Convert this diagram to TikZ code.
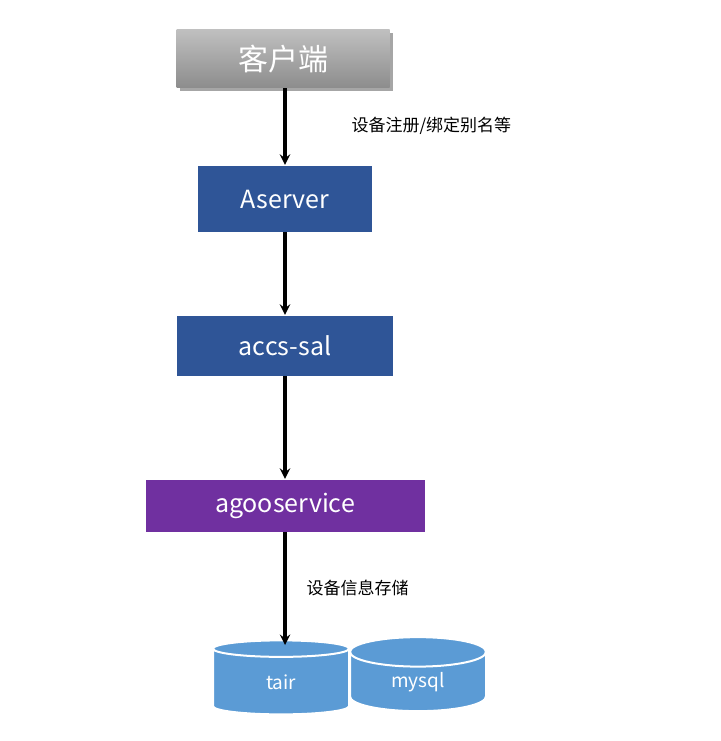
\documentclass[tikz,border=0pt]{standalone}
\usepackage{fontspec}
\setmainfont{Noto Sans CJK SC}
\usetikzlibrary{shapes.geometric}
\definecolor{boxblue}{HTML}{2F5597}
\definecolor{boxpurple}{HTML}{7030A0}
\definecolor{dbblue}{HTML}{5B9BD5}
\begin{document}
\begin{tikzpicture}[x=1pt,y=-1pt,>=stealth,
	box/.style={rectangle, text=white, font=\fontsize{25}{28}\selectfont, inner sep=0pt},
	db/.style={cylinder, shape border rotate=90, aspect=0.55, fill=dbblue, draw=white, line width=2pt,
		minimum width=136pt, minimum height=74pt, text=white, font=\fontsize{19}{22}\selectfont, inner sep=0pt},
	flow/.style={->, line width=3.5pt, shorten >=1pt}]

	\useasboundingbox (0,0) rectangle (720,741);

	\fill[black!35] (180,33) rectangle (393,91);
	\node[box, minimum width=213pt, minimum height=58pt, top color=black!25, bottom color=black!45, font=\fontsize{30}{32}\selectfont] (Client) at (283,59) {客户端};
	\node[box, fill=boxblue, minimum width=174pt, minimum height=66pt] (Aserver) at (285,199) {Aserver};
	\node[box, fill=boxblue, minimum width=216pt, minimum height=60pt] (Accs) at (285,346) {accs-sal};
	\node[box, fill=boxpurple, minimum width=279pt, minimum height=52pt] (Agoo) at (285,506) {agooservice};

	\node[db] (Tair) at (281,682) {tair};
	\node[db] (Mysql) at (418,682) {mysql};

	\draw[flow] (Client.south -| Aserver.north) -- (Aserver.north);
	\draw[flow] (Aserver) -- (Accs);
	\draw[flow] (Accs) -- (Agoo);
	\coordinate (DbIn) at (285,646);
	\draw[flow] (Agoo.south) -- (DbIn);

	\node[anchor=west, font=\fontsize{17}{20}\selectfont] (Reg) at (348,126) {设备注册/绑定别名等};
	\node[anchor=west, font=\fontsize{17}{20}\selectfont] (Store) at (303,588) {设备信息存储};

\end{tikzpicture}
\end{document}
